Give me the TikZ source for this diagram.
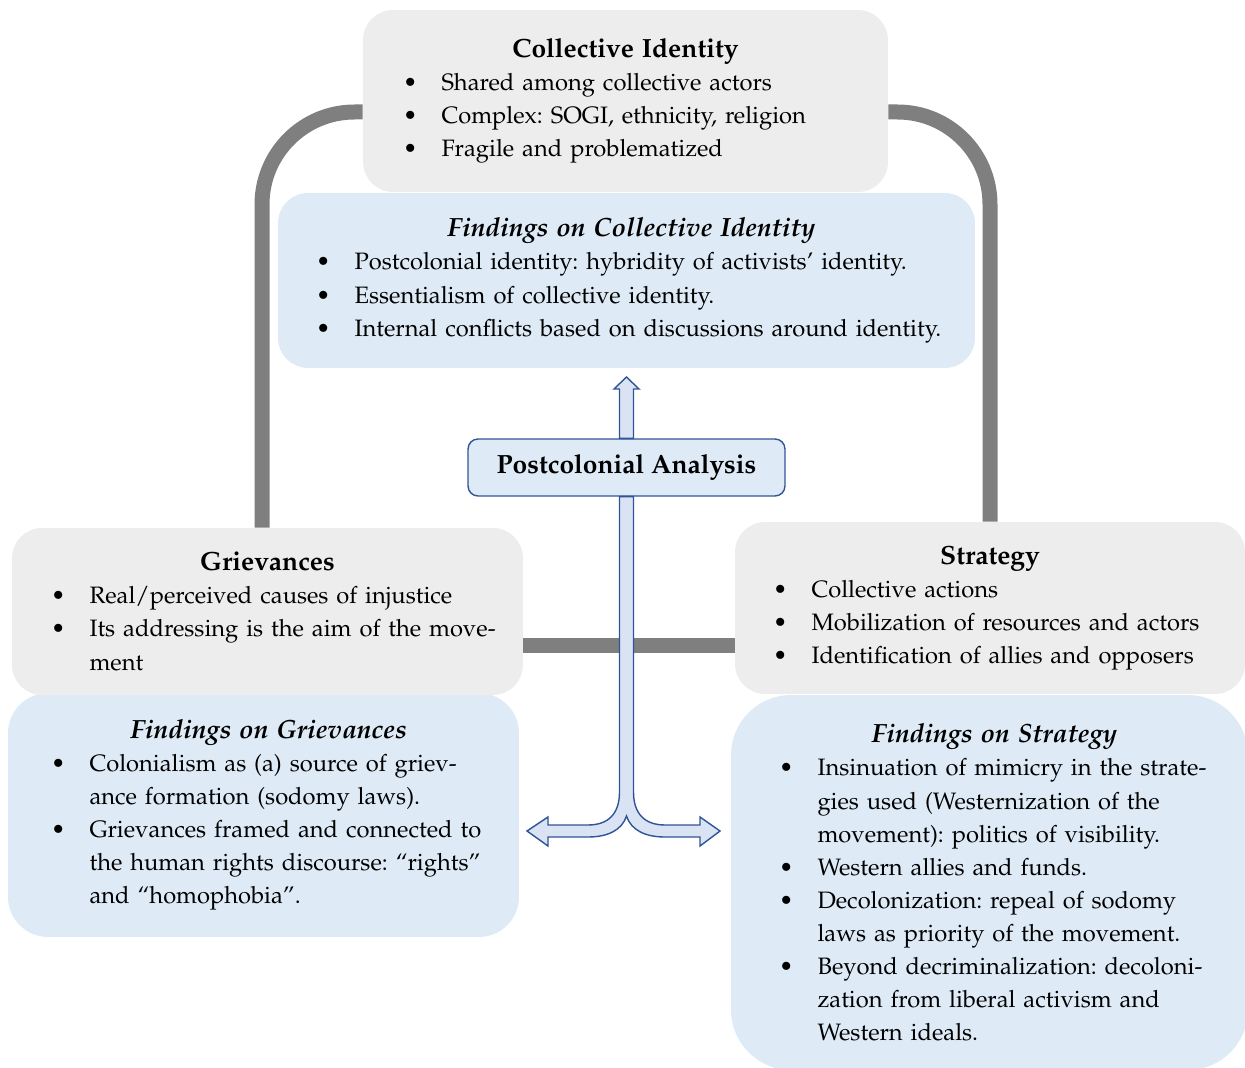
\documentclass[tikz,border=0pt]{standalone}
\usepackage[T1]{fontenc}
\usepackage{mathpazo}
\usepackage{xcolor}
\usepackage{tikz}
\usetikzlibrary{
    calc,
    positioning
}
\definecolor{boxgray}{RGB}{237,237,237}
\definecolor{boxblue}{RGB}{222,235,247}
\definecolor{linegray}{RGB}{127,127,127}
\definecolor{arrowblue}{RGB}{47,85,151}
\definecolor{arrowfill}{RGB}{218,227,243}
\newcommand{\boxfont}{\fontsize{13.5}{18.8}\selectfont\frenchspacing}
% one bullet line and its continuation lines (never broken by TeX)
\newcommand{\bul}[1]{\mbox{\makebox[0.67cm][l]{\hspace{-0.1cm}\textbullet}#1}}
\newcommand{\contline}[1]{\mbox{\hspace*{0.67cm}#1}}
\newcommand{\boxtitle}[1]{\makebox[\linewidth]{\fontsize{15}{18.8}\selectfont #1}}
\hfuzz=100pt
\tikzset{
    % grey box with one part of the framework
    framebox/.style={
        fill=boxgray,
        rounded corners=0.6cm,
        align=left,
        inner ysep=0pt,
        font=\boxfont
    },
    % light blue box with the findings of one part
    findbox/.style={
        fill=boxblue,
        align=left,
        inner ysep=0pt,
        font=\boxfont
    },
    % thick grey line between the grey boxes
    link/.style={
        draw=linegray,
        line width=0.3cm,
        rounded corners=1.85cm
    },
    % outlined block arrow
    blockarrow/.style={
        draw=arrowblue,
        fill=arrowfill,
        line width=0.8pt,
        line join=miter
    }
}

\begin{document}
\begin{tikzpicture}[x=0.02cm, y=-0.02cm]
    \useasboundingbox (0,0) rectangle (1245,1068);
    % findings (drawn first, the grey boxes lie on them)
    \node (fci) at (626.5,280.5)[findbox, rounded corners=0.6cm, minimum width=13.94cm, minimum height=3.5cm, text width=12.22cm, inner xsep=0.86cm]{%
        \boxtitle{\bfseries\itshape\hspace{0.2cm}Findings on Collective Identity}\\
        \bul{Postcolonial identity: hybridity of activists' identity.}\\
        \bul{Essentialism of collective identity.}\\
        \bul{Internal conflicts based on discussions around identity.}};
    \node (fgri) at (263.5,815)[findbox, rounded corners=0.8cm, minimum width=10.22cm, minimum height=4.88cm, text width=8.3cm, inner xsep=0.96cm]{%
        \boxtitle{\bfseries\itshape\hspace{0.2cm}Findings on Grievances}\\
        \bul{Colonialism as (a) source of griev-}\\
        \contline{ance formation (sodomy laws).}\\
        \bul{Grievances framed and connected to}\\
        \contline{the human rights discourse: ``rights''}\\
        \contline{and ``homophobia''.}};
    \node (fstr) at (989.5,882.5)[findbox, rounded corners=1.2cm, minimum width=10.34cm, minimum height=7.5cm, text width=8.22cm, inner xsep=1.06cm]{%
        \boxtitle{\bfseries\itshape\hspace{0.2cm}Findings on Strategy}\\
        \bul{Insinuation of mimicry in the strate-}\\
        \contline{gies used (Westernization of the}\\
        \contline{movement): politics of visibility.}\\
        \bul{Western allies and funds.}\\
        \bul{Decolonization: repeal of sodomy}\\
        \contline{laws as priority of the movement.}\\
        \bul{Beyond decriminalization: decoloni-}\\
        \contline{zation from liberal activism and}\\
        \contline{Western ideals.}};
    % the three parts
    \node (ci) at (625.5,101)[framebox, minimum width=10.5cm, minimum height=3.64cm, text width=8.7cm, inner xsep=0.9cm]{%
        \boxtitle{\bfseries Collective Identity}\\
        \bul{Shared among collective actors}\\
        \bul{Complex: SOGI, ethnicity, religion}\\
        \bul{Fragile and problematized}};
    \node (gri) at (267.5,611.5)[framebox, minimum width=10.22cm, minimum height=3.34cm, text width=8.46cm, inner xsep=0.88cm]{%
        \boxtitle{\bfseries Grievances}\\
        \bul{Real/perceived causes of injustice}\\
        \bul{Its addressing is the aim of the move-}\\
        \contline{ment}};
    \node (str) at (990,608)[framebox, minimum width=10.2cm, minimum height=3.44cm, text width=8.48cm, inner xsep=0.86cm]{%
        \boxtitle{\bfseries Strategy}\\
        \bul{Collective actions}\\
        \bul{Mobilization of resources and actors}\\
        \bul{Identification of allies and opposers}};
    % grey links between the parts
    \coordinate (mid) at ([yshift=-0.68cm]gri.east);
    \draw[link] ([xshift=-0.11cm]gri.north) |- ([yshift=-0.22cm]ci.west);
    \draw[link] ([yshift=-0.22cm]ci.east) -| (str.north);
    \draw[link] (mid) -- (mid -| str.west);
    % analysis in the middle with its block arrows
    \node (pa) at (626.5,467.5)[draw=arrowblue, fill=boxblue, rounded corners=0.2cm, line width=0.8pt, minimum width=6.34cm, minimum height=1.14cm, font=\fontsize{15}{18}\selectfont\bfseries]{Postcolonial Analysis};
    \draw[blockarrow] ($(pa.north)+(-7,0)$) -- (619.5,389) -- (614,389) -- (626.5,377)
        -- (639,389) -- (633.5,389) -- ($(pa.north)+(7,0)$) -- cycle;
    \draw[blockarrow] ($(pa.south)+(-7,0)$) -- (619.5,792)
        .. controls (619.5,814) and (608,825) .. (588,825)
        -- (548,825) -- (548,817) -- (527,831) -- (548,846) -- (548,837) -- (588,837)
        .. controls (608,837) and (622,830) .. (626.5,816)
        .. controls (631,830) and (645,837) .. (665,837)
        -- (700,837) -- (700,846) -- (720,831) -- (700,817) -- (700,825) -- (665,825)
        .. controls (645,825) and (633.5,814) .. (633.5,792)
        -- ($(pa.south)+(7,0)$) -- cycle;
\end{tikzpicture}
\end{document}
